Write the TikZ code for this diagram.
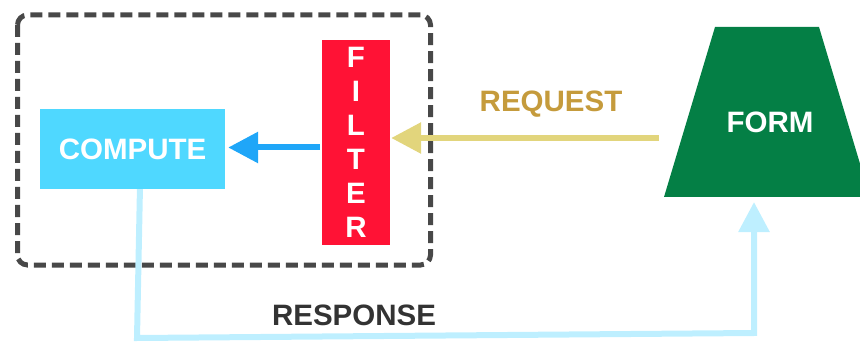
\documentclass[tikz,border=0pt]{standalone}
\usepackage{fontspec}
\setmainfont{Liberation Sans}
\usetikzlibrary{arrows.meta}
\definecolor{computefill}{RGB}{79,216,255}
\definecolor{filterfill}{RGB}{255,18,53}
\definecolor{formfill}{RGB}{4,127,69}
\definecolor{callblue}{RGB}{31,166,248}
\definecolor{reqline}{RGB}{226,213,124}
\definecolor{reqtext}{RGB}{197,155,60}
\definecolor{respline}{RGB}{190,239,255}
\definecolor{resptext}{RGB}{51,51,51}
\definecolor{framegray}{RGB}{72,72,72}
\tikzset{
  bigfont/.style={font=\fontsize{29.5}{34}\selectfont\bfseries},
  block/.style={bigfont, text=white, inner sep=0pt, align=center},
  flow/.style={line width=6pt, -{Triangle[length=30pt,width=30pt]}},
  frame/.style={draw=framegray, line width=5pt, dash pattern=on 12pt off 6pt, rounded corners=10pt},
}
\begin{document}
\begin{tikzpicture}[x=1pt,y=-1pt]
  \useasboundingbox (0,0) rectangle (860,342);

  % trust boundary around the server side
  \draw[frame] (17.5,15) rectangle (430.5,265);

  % response path, drawn first so the compute block covers its start
  \coordinate (respstart) at (140,186);
  \coordinate (respcorner) at (137,338);
  \coordinate (respturn) at (754,333);
  \coordinate (resptip) at (754,202);
  \draw[flow, respline] (respstart) -- (respcorner) -- (respturn) -- (resptip);

  % blocks
  \node[block, fill=computefill, minimum width=185pt, minimum height=80pt] (compute) at (132.5,149) {COMPUTE};
  \node[block, fill=filterfill, minimum width=68pt, minimum height=205pt] (filter) at (356,142.5) {F\\I\\L\\T\\E\\R};
  \fill[formfill] (715,27) -- (819,27) -- (870,197) -- (664,197) -- cycle;
  \node[block] (form) at (770,122.5) {FORM};

  % request and hand-off arrows
  \coordinate (reqstart) at (659,138);
  \draw[flow, reqline] (reqstart) -- ([xshift=1pt]filter.east |- reqstart);
  \coordinate (callstart) at (320,147.5);
  \draw[flow, callblue] (callstart) -- ([xshift=3pt]compute.east |- callstart);

  % labels
  \node[bigfont, text=reqtext] (reqlabel) at (551,104) {REQUEST};
  \node[bigfont, text=resptext] (resplabel) at (354,315.5) {RESPONSE};
\end{tikzpicture}
\end{document}
